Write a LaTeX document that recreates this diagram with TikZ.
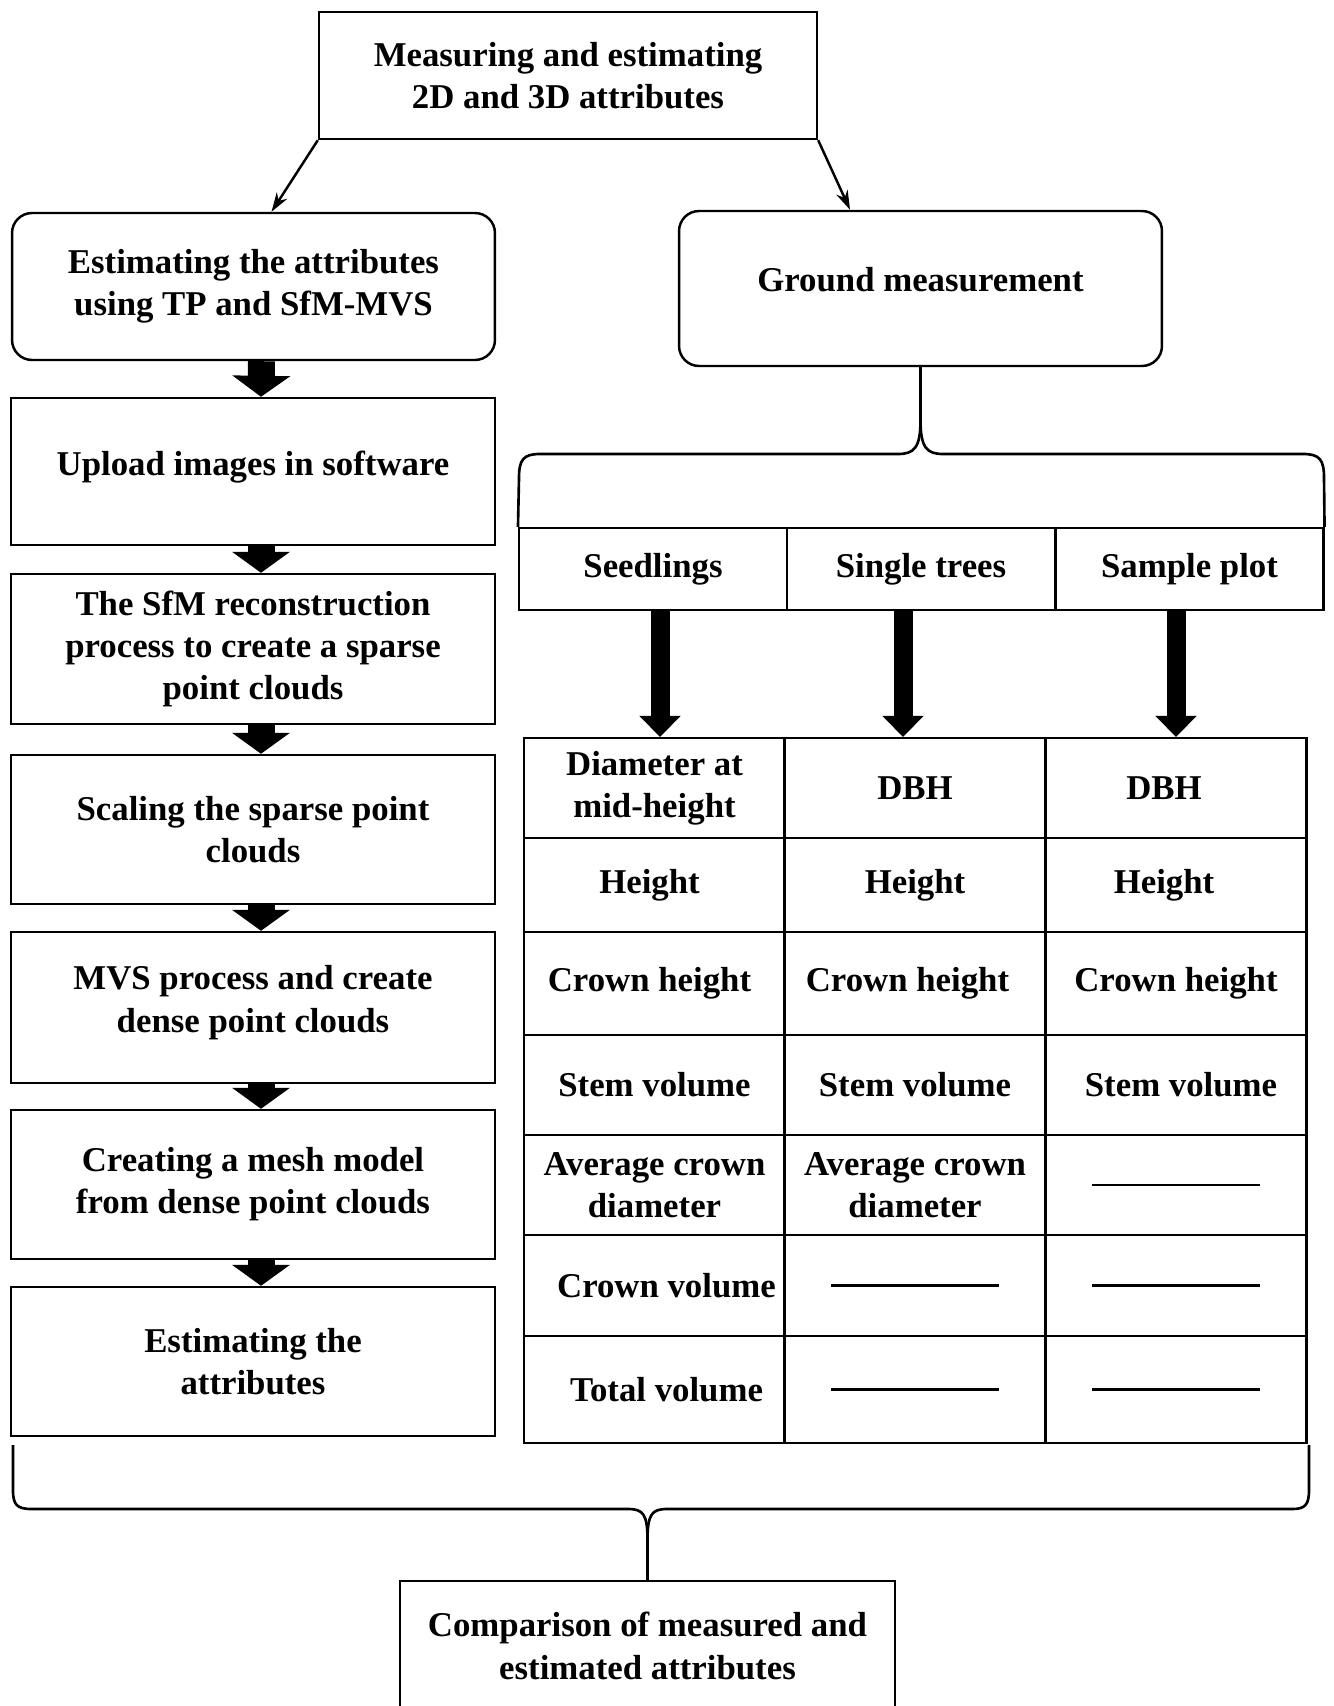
\documentclass[tikz,border=0pt]{standalone}
\usepackage{fontspec}
\setmainfont{Liberation Serif}
\usetikzlibrary{arrows.meta}

\tikzset{
  box/.style={draw, line width=1.4pt, align=center, inner sep=2pt,
    font=\fontsize{19.8}{24}\selectfont\bfseries},
  rbox/.style={box, rounded corners=0.4cm},
  cell/.style={box, line width=1.2pt, minimum width=5.22cm},
  head/.style={cell, minimum width=5.36cm, minimum height=1.64cm},
  thinarrow/.style={line width=1.4pt, -{Stealth[length=11pt,width=7pt]}},
  blockL/.style={line width=0.54cm, -{Triangle[width=1.14cm,length=0.42cm]}},
  blockR/.style={line width=0.38cm, -{Triangle[width=0.8cm,length=0.42cm]}},
  brace/.style={line width=1.5pt},
  nil/.style={line width=1.4pt}
}

\begin{document}
\begin{tikzpicture}[x=0.02cm, y=-0.02cm]
        \useasboundingbox (0,0) rectangle (1333,1706);

        % top of the chart
        \node [box, minimum width=9.96cm, minimum height=2.54cm] (top) at (568,75.5) {Measuring and estimating\\2D and 3D attributes};
        \node [rbox, minimum width=9.66cm, minimum height=2.94cm] (est) at (253.5,286.5) {Estimating the attributes\\using TP and SfM-MVS};
        \node [rbox, minimum width=9.66cm, minimum height=3.1cm] (gnd) at (920.5,288.5) {Ground measurement\\[-0.5cm]};
        \draw [thinarrow] (top.south west) -- ([xshift=0.36cm]est.north);
        \draw [thinarrow] (top.south east) -- ([xshift=-1.41cm]gnd.north);

        % left column
        \node [box, minimum width=9.68cm, minimum height=2.94cm] (up) at (253,471.5) {Upload images in software\\[-0.5cm]};
        \node [box, minimum width=9.68cm, minimum height=3cm] (sfm) at (253,649) {The SfM reconstruction\\process to create a sparse\\point clouds};
        \node [box, minimum width=9.68cm, minimum height=2.98cm] (scl) at (253,829.5) {Scaling the sparse point\\clouds};
        \node [box, minimum width=9.68cm, minimum height=3.02cm] (mvs) at (253,1007.5) {MVS process and create\\dense point clouds\\[-0.5cm]};
        \node [box, minimum width=9.68cm, minimum height=2.98cm] (mesh) at (253,1184.5) {Creating a mesh model\\from dense point clouds};
        \node [box, minimum width=9.68cm, minimum height=2.98cm] (attr) at (253,1361.5) {Estimating the\\attributes};
        \foreach \a/\b in {est/up, up/sfm, sfm/scl, scl/mvs, mvs/mesh, mesh/attr}
            \draw [blockL] ([xshift=0.16cm]\a.south) -- ([xshift=0.16cm]\b.north);

        % ground measurement
        \node [head] (sdh) at (653,569) {Seedlings};
        \node [head] (sth) at (921,569) {Single trees};
        \node [head] (sph) at (1189.5,569) {Sample plot};
        \draw [brace] (sdh.north west) -- (519,478) .. controls (519,460) and (523,454) .. (540,454)
            -- (898,454) .. controls (914,454) and (920.5,448) .. (920.5,420) -- (gnd.south);
        \draw [brace] (gnd.south) -- (920.5,420) .. controls (920.5,448) and (927,454) .. (943,454)
            -- (1303,454) .. controls (1320,454) and (1324,460) .. (1324,478) -- (sph.north east);

        \node [cell, minimum height=2cm] (sd1) at (654.5,788) {Diameter at\\mid-height};
        \node [cell, minimum height=1.88cm] (sd2) at (654.5,885) {Height\hspace*{0.2cm}};
        \node [cell, minimum height=2.06cm] (sd3) at (654.5,983.5) {Crown height\hspace*{0.2cm}};
        \node [cell, minimum height=2cm] (sd4) at (654.5,1085) {Stem volume};
        \node [cell, minimum height=2cm] (sd5) at (654.5,1185) {Average crown\\diameter};
        \node [cell, minimum height=2.02cm] (sd6) at (654.5,1285.5) {\hspace*{0.48cm}Crown volume};
        \node [cell, minimum height=2.14cm] (sd7) at (654.5,1389.5) {\hspace*{0.48cm}Total volume};

        \node [cell, minimum height=2cm] (st1) at (915,788) {DBH};
        \node [cell, minimum height=1.88cm] (st2) at (915,885) {Height};
        \node [cell, minimum height=2.06cm] (st3) at (915,983.5) {Crown height\hspace*{0.3cm}};
        \node [cell, minimum height=2cm] (st4) at (915,1085) {Stem volume};
        \node [cell, minimum height=2cm] (st5) at (915,1185) {Average crown\\diameter};
        \node [cell, minimum height=2.02cm] (st6) at (915,1285.5) {};
        \node [cell, minimum height=2.14cm] (st7) at (915,1389.5) {};

        \node [cell, minimum height=2cm] (sp1) at (1176,788) {DBH\hspace*{0.48cm}};
        \node [cell, minimum height=1.88cm] (sp2) at (1176,885) {Height\hspace*{0.48cm}};
        \node [cell, minimum height=2.06cm] (sp3) at (1176,983.5) {Crown height};
        \node [cell, minimum height=2cm] (sp4) at (1176,1085) {\hspace*{0.2cm}Stem volume};
        \node [cell, minimum height=2cm] (sp5) at (1176,1185) {};
        \node [cell, minimum height=2.02cm] (sp6) at (1176,1285.5) {};
        \node [cell, minimum height=2.14cm] (sp7) at (1176,1389.5) {};

        \foreach \c in {st6, st7, sp5, sp6, sp7}
            \draw [nil] (\c.center) +(-84,0) -- +(84,0);

        \draw [blockR] ([xshift=0.11cm]sd1.north |- sdh.south) -- ([xshift=0.11cm]sd1.north);
        \draw [blockR] ([xshift=-0.24cm]st1.north |- sth.south) -- ([xshift=-0.24cm]st1.north);
        \draw [blockR] (sp1.north |- sph.south) -- (sp1.north);

        % comparison
        \node [box, minimum width=9.9cm, minimum height=2.6cm] (cmp) at (647.5,1646) {Comparison of measured and\\estimated attributes};
        \draw [brace] (13,1445) -- (13,1490) .. controls (13,1505) and (17,1509) .. (32,1509)
            -- (628,1509) .. controls (643,1509) and (647.5,1514) .. (647.5,1540) -- (cmp.north);
        \draw [brace] (cmp.north) -- (647.5,1540) .. controls (647.5,1514) and (652,1509) .. (667,1509)
            -- (1292,1509) .. controls (1305,1509) and (1309,1505) .. (1309,1490) -- (1309,1445);

\end{tikzpicture}
\end{document}
